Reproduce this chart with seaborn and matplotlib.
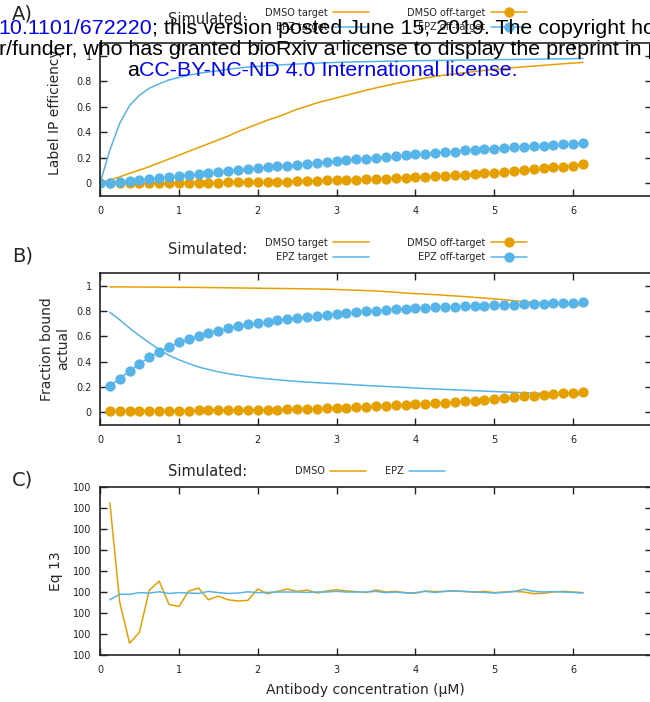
import numpy as np
import matplotlib
matplotlib.use("Agg")
import matplotlib.pyplot as plt
import seaborn as sns

ORANGE = "#E69F00"
BLUE = "#56B4E9"
W, H = 650, 702

# antibody concentration grid (uM)
conc = np.arange(50) * 0.125

# A) label IP efficiency
a_dmso_target = [0.0, 0.025, 0.05, 0.078, 0.104, 0.13, 0.16, 0.19, 0.22, 0.25, 0.28, 0.31, 0.34,
                 0.37, 0.405, 0.435, 0.465, 0.495, 0.52, 0.55, 0.58, 0.605, 0.63, 0.65, 0.67, 0.69,
                 0.71, 0.73, 0.748, 0.765, 0.782, 0.797, 0.81, 0.825, 0.838, 0.849, 0.858, 0.867,
                 0.876, 0.885, 0.893, 0.900, 0.907, 0.913, 0.919, 0.925, 0.931, 0.937, 0.942, 0.948]
a_epz_target = [0.0, 0.26, 0.47, 0.61, 0.69, 0.745, 0.78, 0.81, 0.83, 0.848, 0.862, 0.873, 0.883,
                0.893, 0.903, 0.911, 0.917, 0.922, 0.927, 0.931, 0.935, 0.939, 0.942, 0.945, 0.948,
                0.950, 0.952, 0.954, 0.955, 0.957, 0.958, 0.959, 0.961, 0.962, 0.963, 0.964, 0.965,
                0.966, 0.967, 0.968, 0.969, 0.970, 0.971, 0.972, 0.973, 0.974, 0.975, 0.976, 0.977, 0.978]
a_dmso_off = [0, 0, 0, 0.001, 0.001, 0.001, 0.002, 0.002, 0.003, 0.003, 0.004, 0.005, 0.005, 0.006,
              0.007, 0.008, 0.009, 0.010, 0.012, 0.013, 0.015, 0.017, 0.019, 0.022, 0.024, 0.027,
              0.029, 0.031, 0.034, 0.036, 0.039, 0.043, 0.046, 0.050, 0.054, 0.058, 0.062, 0.067,
              0.072, 0.078, 0.084, 0.090, 0.097, 0.104, 0.111, 0.118, 0.124, 0.130, 0.138, 0.148]
a_epz_off = [0.0, 0.004, 0.012, 0.020, 0.025, 0.033, 0.041, 0.049, 0.057, 0.064, 0.072, 0.080,
             0.088, 0.096, 0.103, 0.111, 0.119, 0.127, 0.132, 0.137, 0.145, 0.153, 0.158, 0.166,
             0.172, 0.179, 0.187, 0.192, 0.200, 0.205, 0.210, 0.218, 0.226, 0.231, 0.239, 0.244,
             0.249, 0.257, 0.262, 0.267, 0.272, 0.278, 0.283, 0.288, 0.293, 0.296, 0.301, 0.306,
             0.311, 0.317]

# B) fraction bound, from 0.125 uM
b_dmso_target = [0.990, 0.990, 0.990, 0.989, 0.989, 0.988, 0.988, 0.987, 0.987, 0.986, 0.985, 0.984,
                 0.983, 0.982, 0.981, 0.980, 0.979, 0.978, 0.977, 0.976, 0.975, 0.974, 0.972, 0.970,
                 0.967, 0.964, 0.961, 0.958, 0.953, 0.948, 0.942, 0.937, 0.933, 0.929, 0.924, 0.919,
                 0.914, 0.908, 0.902, 0.895, 0.889, 0.881, 0.873, 0.867, 0.861, 0.856, 0.851, 0.847, 0.843]
b_epz_target = [0.790, 0.730, 0.665, 0.605, 0.550, 0.495, 0.450, 0.415, 0.385, 0.358, 0.338, 0.320,
                0.305, 0.293, 0.282, 0.272, 0.264, 0.257, 0.250, 0.244, 0.239, 0.234, 0.230, 0.226,
                0.221, 0.217, 0.212, 0.208, 0.204, 0.200, 0.196, 0.192, 0.188, 0.185, 0.181, 0.178,
                0.174, 0.171, 0.167, 0.164, 0.161, 0.158, 0.155, 0.152, 0.149, 0.146, 0.143, 0.141, 0.138]
b_dmso_off = [0.010, 0.010, 0.011, 0.011, 0.012, 0.012, 0.013, 0.013, 0.014, 0.015, 0.016, 0.016,
              0.017, 0.018, 0.019, 0.020, 0.021, 0.022, 0.024, 0.025, 0.027, 0.029, 0.031, 0.035,
              0.038, 0.041, 0.044, 0.047, 0.051, 0.055, 0.059, 0.063, 0.067, 0.071, 0.076, 0.081,
              0.087, 0.093, 0.099, 0.106, 0.112, 0.119, 0.126, 0.132, 0.139, 0.144, 0.149, 0.154, 0.161]
b_epz_off = [0.208, 0.266, 0.327, 0.382, 0.433, 0.480, 0.515, 0.552, 0.578, 0.604, 0.628, 0.646,
             0.662, 0.678, 0.694, 0.704, 0.717, 0.728, 0.736, 0.744, 0.752, 0.760, 0.768, 0.776,
             0.785, 0.791, 0.797, 0.802, 0.807, 0.812, 0.816, 0.820, 0.823, 0.828, 0.831, 0.834,
             0.837, 0.839, 0.842, 0.844, 0.847, 0.850, 0.852, 0.855, 0.858, 0.860, 0.863, 0.865, 0.868]

# C) Eq 13, in tick steps (every tick is labelled "100")
c_dmso = [7.25, 2.52, 0.56, 1.08, 3.08, 3.52, 2.41, 2.31, 3.04, 3.19, 2.63, 2.80, 2.63, 2.57, 2.60,
          3.14, 2.92, 3.03, 3.14, 3.03, 3.09, 2.95, 3.05, 3.11, 3.05, 3.02, 2.97, 3.10, 3.00, 3.03,
          2.97, 2.94, 3.05, 3.02, 3.03, 3.05, 3.02, 3.00, 3.03, 2.97, 3.00, 3.03, 3.00, 2.92, 2.94,
          3.00, 3.03, 3.00, 2.97]
c_epz = [2.63, 2.89, 2.89, 2.97, 2.95, 3.01, 2.93, 2.97, 2.95, 2.93, 3.03, 2.97, 2.93, 2.95, 3.01,
         2.97, 2.98, 3.00, 3.00, 3.00, 2.98, 3.00, 3.00, 3.03, 3.00, 3.00, 3.00, 3.03, 2.97, 3.00,
         2.95, 2.97, 3.03, 2.98, 3.03, 3.06, 3.03, 3.00, 2.98, 2.95, 2.98, 3.02, 3.13, 3.03, 3.00,
         3.02, 3.00, 2.98, 2.95]

x_ticks = [0, 1, 2, 3, 4, 5, 6, 7]
x_tick_labels = ["0", "1", "2", "3", "4", "5", "6", "7"]
frac_ticks = [0, 0.2, 0.4, 0.6, 0.8, 1]
frac_tick_labels = ["0", "0.2", "0.4", "0.6", "0.8", "1"]
eq_ticks = [0, 1, 2, 3, 4, 5, 6, 7, 8]
eq_tick_labels = ["100"] * 9

sns.set_style("ticks")
plt.rcParams["font.family"] = ["DejaVu Sans"]

fig = plt.figure(figsize=(W / 100, H / 100), dpi=100)


def px_box(top, bottom):
    return [100 / W, 1 - bottom / H, 552 / W, (bottom - top) / H]


def style_axes(ax, yticks, ylabels, ylim):
    ax.set_xlim(0, 7)
    ax.set_ylim(*ylim)
    ax.set_xticks(x_ticks)
    ax.set_xticklabels(x_tick_labels)
    ax.set_yticks(yticks)
    ax.set_yticklabels(ylabels)
    ax.tick_params(direction="in", top=True, right=True, length=5, width=1,
                   color="#222222", labelsize=7, labelcolor="#222222")
    ax.tick_params(axis="x", pad=7)
    ax.tick_params(axis="y", pad=6)
    for s in ax.spines.values():
        s.set_linewidth(1.2)
        s.set_color("#222222")
    ax.set_xlabel("")


def add_legend(ax, x_px, y_px, colspace):
    h, l = ax.get_legend_handles_labels()
    fig.legend(h, l, loc="center left", bbox_to_anchor=(x_px / W, 1 - y_px / H), ncol=2,
               markerfirst=False, frameon=False, fontsize=7, handlelength=3.7,
               handletextpad=0.55, columnspacing=colspace, labelspacing=0.45,
               borderpad=0, borderaxespad=0)


line_kw = dict(linewidth=1.1, legend=False)
dot_kw = dict(linewidth=1.1, marker="o", markersize=7.4, markeredgewidth=0, legend=False)

# panel A
ax_a = fig.add_axes(px_box(43, 196))
sns.lineplot(x=conc, y=a_dmso_target, ax=ax_a, color=ORANGE, label="DMSO target", **line_kw)
sns.lineplot(x=conc, y=a_epz_target, ax=ax_a, color=BLUE, label="EPZ target", **line_kw)
sns.lineplot(x=conc, y=a_dmso_off, ax=ax_a, color=ORANGE, label="DMSO off-target", **dot_kw)
sns.lineplot(x=conc, y=a_epz_off, ax=ax_a, color=BLUE, label="EPZ off-target", **dot_kw)
style_axes(ax_a, frac_ticks, frac_tick_labels, (-0.1, 1.1))
ax_a.set_ylabel("Label IP efficiency", fontsize=10)
ax_a.yaxis.set_label_coords(-0.069, 0.55)
add_legend(ax_a, 265, 20, 3.9)

# panel B
ax_b = fig.add_axes(px_box(273, 425))
sns.lineplot(x=conc[1:], y=b_dmso_target, ax=ax_b, color=ORANGE, label="DMSO target", **line_kw)
sns.lineplot(x=conc[1:], y=b_epz_target, ax=ax_b, color=BLUE, label="EPZ target", **line_kw)
sns.lineplot(x=conc[1:], y=b_dmso_off, ax=ax_b, color=ORANGE, label="DMSO off-target", **dot_kw)
sns.lineplot(x=conc[1:], y=b_epz_off, ax=ax_b, color=BLUE, label="EPZ off-target", **dot_kw)
style_axes(ax_b, frac_ticks, frac_tick_labels, (-0.1, 1.1))
ax_b.set_ylabel("Fraction bound\nactual", fontsize=10)
ax_b.yaxis.set_label_coords(-0.054, 0.5)
add_legend(ax_b, 265, 250, 3.9)

# panel C
ax_c = fig.add_axes(px_box(487, 655))
sns.lineplot(x=conc[1:], y=c_dmso, ax=ax_c, color=ORANGE, label="DMSO", **line_kw)
sns.lineplot(x=conc[1:], y=c_epz, ax=ax_c, color=BLUE, label="EPZ", **line_kw)
style_axes(ax_c, eq_ticks, eq_tick_labels, (0, 8))
ax_c.set_ylabel("Eq 13", fontsize=10)
ax_c.yaxis.set_label_coords(-0.067, 0.5)
add_legend(ax_c, 295, 471, 1.9)
fig.text(365 / W, 1 - 690 / H, "Antibody concentration (\u03bcM)", ha="center", va="center", fontsize=10)

for lab, ypx, sy in [("A)", 14, 20), ("B)", 256, 249), ("C)", 480, 472)]:
    fig.text(12 / W, 1 - ypx / H, lab, fontsize=14, va="center")
    fig.text(168 / W, 1 - sy / H, "Simulated:", fontsize=10.5, va="center")

# preprint watermark lines across the top
hdr = dict(fontsize=15.4, family=["Liberation Sans", "DejaVu Sans"], va="baseline", zorder=10)
fig.canvas.draw()
renderer = fig.canvas.get_renderer()


def chain(x_px, y_px, parts):
    x = x_px / W
    for txt, col in parts:
        t = fig.text(x, 1 - y_px / H, txt, color=col, **hdr)
        x = t.get_window_extent(renderer=renderer).x1 / fig.bbox.width


chain(-2, 34, [("10.1101/672220", "#0000ff"),
               ("; this version posted June 15, 2019. The copyright holder for this preprint", "black")])
chain(-1, 55, [("r/funder, who has granted bioRxiv a license to display the preprint in perpetuity.", "black")])
chain(127, 76, [("a", "black"), ("CC-BY-NC-ND 4.0 International license.", "#0000ff")])

fig.savefig("out.png", dpi=100)
